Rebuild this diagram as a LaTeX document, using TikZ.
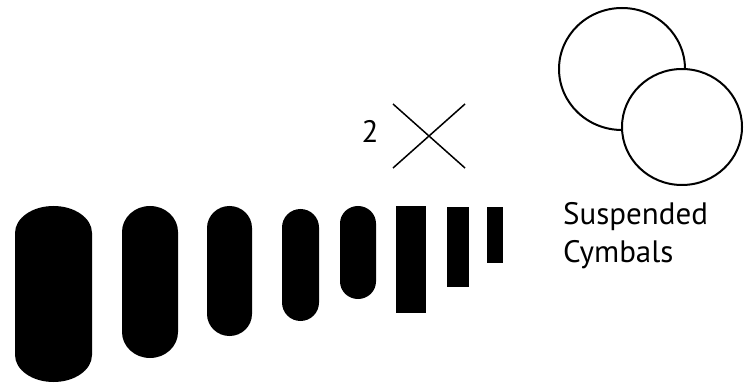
\documentclass[tikz,border=0pt]{standalone}
\usepackage{fontspec}
\setmainfont{PT Sans}
\usetikzlibrary{positioning}

\begin{document}
\begin{tikzpicture}[x=1pt, y=-1pt, every node/.style={font=\fontsize{31}{37}\selectfont, inner sep=0pt}]
    \useasboundingbox (0,0) rectangle (752,387);

    % Drums (left x / right x / top / bottom / cap height)
    \foreach \l/\r/\t/\b/\c in {15/92/206/382/27, 122/178/206/358/26, 207/252/206/336/22, 282/319/209/321/18.5, 340/376/206/299/17.5} {
        \fill ({\l},{\b-\c}) arc[start angle=180, end angle=0, x radius={(\r-\l)/2}, y radius=\c]
            -- ({\r},{\t+\c}) arc[start angle=0, end angle=-180, x radius={(\r-\l)/2}, y radius=\c] -- cycle;
    }

    % Blocks
    \foreach \l/\r/\t/\b in {396/426/206/313, 447/469/207/287, 487/503/207/263} {
        \fill (\l,\t) rectangle (\r,\b);
    }

    % Times two
    \node (two) at (370,131) {2};
    \draw[line width=1.5pt] (393,104) -- (465,168);
    \draw[line width=1.5pt] (465,104) -- (393,168);

    % Suspended cymbals
    \draw[line width=2pt, fill=white] (622,69) ellipse[x radius=63, y radius=61];
    \draw[line width=2pt, fill=white] (682,127) ellipse[x radius=60, y radius=58];
    \node[anchor=base west, align=left] (cymbals) at (563,262) {Suspended\\Cymbals};
\end{tikzpicture}
\end{document}
